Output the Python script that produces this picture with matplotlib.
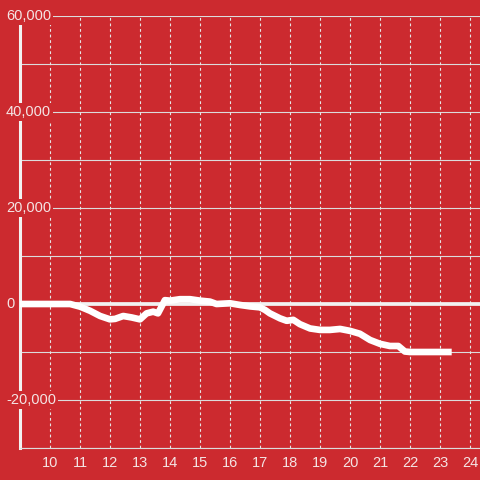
import matplotlib
matplotlib.use("Agg")
import matplotlib.pyplot as plt
from matplotlib.transforms import blended_transform_factory

# hour of day vs running value
hours = [9.0, 9.5, 10.0, 10.5, 10.67, 11.0, 11.33, 11.67, 12.0, 12.17, 12.44,
         12.72, 13.0, 13.22, 13.44, 13.6, 13.83, 14.0, 14.33, 14.67, 15.0,
         15.33, 15.55, 16.0, 16.33, 16.67, 17.0, 17.17, 17.33, 17.67, 17.89,
         18.11, 18.33, 18.67, 19.0, 19.33, 19.67, 20.0, 20.33, 20.67, 21.0,
         21.33, 21.61, 21.83, 22.0, 23.39]
values = [0, 0, 0, 0, 0, -550, -1400, -2500, -3200, -3100, -2500,
          -2800, -3200, -1950, -1600, -1950, 800, 700, 1000, 1000, 700,
          500, 0, 150, -200, -500, -700, -1250, -1950, -3000, -3500,
          -3300, -4200, -5100, -5400, -5400, -5200, -5600, -6200, -7500, -8300,
          -8750, -8750, -9900, -10000, -10000]

x_ticks = list(range(10, 25))
y_grid = [-30000, -20000, -10000, 0, 10000, 20000, 30000, 40000, 50000, 60000]
y_ticks = [60000, 40000, 20000, 0, -20000]
y_labels = ["60,000", "40,000", "20,000", "0", "-20,000"]

bg = "#cc2a2f"
txt = "#f4e4e4"

plt.rcParams["font.family"] = ["Liberation Sans", "DejaVu Sans"]
fig = plt.figure(figsize=(4.8, 4.8), dpi=100, facecolor=bg)
ax = fig.add_axes([20 / 480, 32 / 480, 460 / 480, 432 / 480], facecolor=bg)

ax.set_xlim(9, 9 + 460 / 30)
ax.set_ylim(-30000, 60000)

for v in y_grid:
    ax.axhline(v, color="#dcdcdc", lw=0.8, zorder=1)
for t in x_ticks:
    ax.axvline(t, color="#e6e6e6", lw=0.8, ls=(0, (2.5, 2.5)), zorder=1)

ax.axhline(0, color="#f2f2f2", lw=2.7, zorder=2)
ax.plot(hours, values, color="white", lw=4.8, solid_joinstyle="round",
        solid_capstyle="butt", zorder=3)

for s in ("top", "right"):
    ax.spines[s].set_visible(False)
ax.spines["left"].set_color("#f2f2f2")
ax.spines["left"].set_linewidth(2.2)
ax.spines["bottom"].set_color("#dcdcdc")
ax.spines["bottom"].set_linewidth(0.8)

ax.set_xticks(x_ticks)
ax.set_xticklabels([str(t) for t in x_ticks])
ax.tick_params(axis="x", length=0, pad=6, labelsize=10.5, labelcolor=txt)
ax.set_yticks([])

trans = blended_transform_factory(fig.transFigure, ax.transData)
for v, lab in zip(y_ticks, y_labels):
    ax.text(6 / 480, v, lab, transform=trans, ha="left", va="center",
            fontsize=10.5, color=txt, zorder=6, clip_on=False,
            bbox=dict(facecolor=bg, edgecolor="none", pad=1.5))

fig.savefig("out.png", dpi=100, facecolor=bg)
